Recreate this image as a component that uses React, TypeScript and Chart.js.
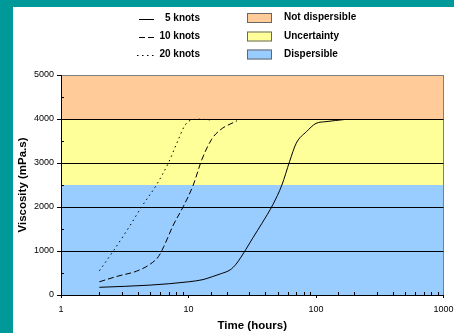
import React, { useEffect, useRef } from 'react';
import { Chart, registerables } from 'chart.js';

Chart.register(...registerables);

// ---- data ----
const seriesLabels = ['5 knots', '10 knots', '20 knots'];
const time5 = [2, 5, 10, 13, 15.5, 18.2, 21.2, 23.6, 25.8, 28.1, 32, 37.5, 46, 54, 62, 70, 84, 100, 120, 170];
const visc5 = [175, 225, 300, 350, 420, 490, 570, 700, 860, 1030, 1300, 1620, 2060, 2500, 3030, 3450, 3710, 3900, 3940, 3990];
const time10 = [2, 2.8, 3.9, 5, 5.8, 6.4, 7.6, 9.1, 10.9, 12.7, 15.2, 17.7, 24];
const visc10 = [300, 430, 540, 700, 870, 1100, 1590, 2010, 2500, 3070, 3540, 3750, 3960];
const time20 = [2, 2.6, 3.5, 4.3, 5.6, 7, 8.1, 9.4, 10.6, 12.3, 15];
const visc20 = [550, 1020, 1590, 2010, 2500, 3020, 3450, 3860, 3980, 3995, 3980];

const zoneLabels = ['Not dispersible', 'Uncertainty', 'Dispersible'];
const zoneFrom = [4000, 2500, 0];
const zoneTo = [5000, 4000, 2500];
const zoneColors = ['#FFCC99', '#FFFF99', '#99CCFF'];

const xTickLabels = [1, 10, 100, 1000];
const yMajorTicks = [0, 1000, 2000, 3000, 4000, 5000];

const seriesDash = [[], [6, 3], [1.5, 3.5]];
const FONT = '"Liberation Sans", Arial, sans-serif';

const isXMajor = (v: number) => xTickLabels.some((t) => Math.abs(t - v) < 1e-6);

const bgPlugin = {
  id: 'bgZones',
  beforeDraw(chart: any) {
    const { ctx, chartArea: a, scales } = chart;
    const y = scales.y;
    ctx.save();
    ctx.fillStyle = '#009999';
    ctx.fillRect(0, 0, chart.width, chart.height);
    ctx.fillStyle = '#ffffff';
    ctx.fillRect(13, 7, chart.width - 13, chart.height - 7);
    zoneFrom.forEach((f, i) => {
      const top = y.getPixelForValue(zoneTo[i]);
      const bot = y.getPixelForValue(f);
      ctx.fillStyle = zoneColors[i];
      ctx.fillRect(a.left, top, a.right - a.left, bot - top);
    });
    ctx.restore();
  },
  afterDraw(chart: any) {
    const { ctx, chartArea: a, scales } = chart;
    ctx.save();
    ctx.strokeStyle = '#000';
    ctx.lineWidth = 1;
    // minor ticks (inside)
    scales.x.ticks.forEach((t: any) => {
      if (isXMajor(t.value)) return;
      const px = Math.round(scales.x.getPixelForValue(t.value)) + 0.5;
      ctx.beginPath();
      ctx.moveTo(px, a.bottom);
      ctx.lineTo(px, a.bottom - 3);
      ctx.stroke();
    });
    scales.y.ticks.forEach((t: any) => {
      if (yMajorTicks.includes(t.value)) return;
      const py = Math.round(scales.y.getPixelForValue(t.value)) + 0.5;
      ctx.beginPath();
      ctx.moveTo(a.left, py);
      ctx.lineTo(a.left + 3, py);
      ctx.stroke();
    });
    // legend
    const rows = [19.5, 37.5, 55.5];
    ctx.font = `bold 10px ${FONT}`;
    ctx.textBaseline = 'middle';
    seriesLabels.forEach((lab, i) => {
      ctx.beginPath();
      ctx.setLineDash(seriesDash[i]);
      ctx.moveTo(i === 2 ? 137 : 139, rows[i]);
      ctx.lineTo(154, rows[i]);
      ctx.stroke();
      ctx.setLineDash([]);
      ctx.fillStyle = '#000';
      ctx.textAlign = 'right';
      ctx.fillText(lab, 200, rows[i] - 1);
    });
    const boxTops = [13, 31.5, 49.5];
    zoneLabels.forEach((lab, i) => {
      ctx.fillStyle = zoneColors[i];
      ctx.fillRect(247, boxTops[i], 25, 10);
      ctx.strokeStyle = '#666666';
      ctx.strokeRect(247.5, boxTops[i] + 0.5, 24, 9);
      ctx.fillStyle = '#000';
      ctx.textAlign = 'left';
      ctx.fillText(lab, 284, boxTops[i] + 4.5);
    });
    ctx.restore();
  },
};

export default function App() {
  const ref = useRef<HTMLCanvasElement | null>(null);

  useEffect(() => {
    if (!ref.current) return;
    const toPts = (xs: number[], ys: number[]) => xs.map((x, i) => ({ x, y: ys[i] }));
    const chart = new Chart(ref.current, {
      type: 'scatter',
      data: {
        datasets: [
          { label: seriesLabels[0], data: toPts(time5, visc5) },
          { label: seriesLabels[1], data: toPts(time10, visc10) },
          { label: seriesLabels[2], data: toPts(time20, visc20) },
        ].map((d, i) => ({
          ...d,
          showLine: true,
          borderColor: '#000',
          backgroundColor: '#000',
          borderWidth: 1,
          borderDash: seriesDash[i],
          pointRadius: 0,
          cubicInterpolationMode: 'monotone' as const,
        })),
      },
      options: {
        animation: false,
        responsive: false,
        maintainAspectRatio: false,
        devicePixelRatio: 1,
        layout: { padding: { top: 75, right: 10.5, bottom: 0, left: 13 } },
        plugins: { legend: { display: false }, tooltip: { enabled: false } },
        font: { family: FONT },
        scales: {
          x: {
            type: 'logarithmic',
            min: 1,
            max: 1000,
            afterFit: (s: any) => { s.height = 38; s.paddingLeft = 0; s.paddingRight = 0; },
            border: { color: '#000', width: 1 },
            grid: {
              drawOnChartArea: true,
              color: (c: any) => (c.tick && Math.abs(c.tick.value - 1000) < 1e-6 ? '#808080' : 'rgba(0,0,0,0)'),
              tickColor: (c: any) => (c.tick && isXMajor(c.tick.value) ? '#000' : 'rgba(0,0,0,0)'),
              tickLength: 3,
            },
            ticks: {
              autoSkip: false,
              maxRotation: 0,
              minRotation: 0,
              padding: 6,
              color: '#000',
              font: { size: 9, family: FONT },
              callback: (v: any) => (isXMajor(Number(v)) ? String(Math.round(Number(v))) : ''),
            },
            title: {
              display: true,
              text: 'Time (hours)',
              color: '#000',
              font: { size: 11.5, weight: 'bold', family: FONT },
              padding: { top: 0, bottom: 0 },
            },
          },
          y: {
            min: 0,
            max: 5000,
            afterFit: (s: any) => { s.width = 48; s.paddingTop = 0; s.paddingBottom = 0; },
            border: { color: '#000', width: 1 },
            grid: {
              color: (c: any) => {
                const v = c.tick ? c.tick.value : -1;
                if (v === 5000) return '#808080';
                if (v > 0 && v % 1000 === 0) return '#000';
                return 'rgba(0,0,0,0)';
              },
              tickColor: (c: any) => (c.tick && yMajorTicks.includes(c.tick.value) ? '#000' : 'rgba(0,0,0,0)'),
              tickLength: 4,
            },
            ticks: {
              stepSize: 500,
              padding: 3,
              color: '#000',
              font: { size: 9, family: FONT },
              callback: (v: any) => (yMajorTicks.includes(Number(v)) ? String(v) : ''),
            },
            title: {
              display: true,
              text: 'Viscosity (mPa.s)',
              color: '#000',
              font: { size: 11.5, weight: 'bold', family: FONT },
              padding: { top: 3, bottom: 0 },
            },
          },
        },
      },
      plugins: [bgPlugin],
    });
    return () => chart.destroy();
  }, []);

  return (
    <div style={{ position: 'absolute', left: 0, top: 0, width: 454, height: 333 }}>
      <canvas ref={ref} width={454} height={333} style={{ width: 454, height: 333, display: 'block' }} />
    </div>
  );
}
